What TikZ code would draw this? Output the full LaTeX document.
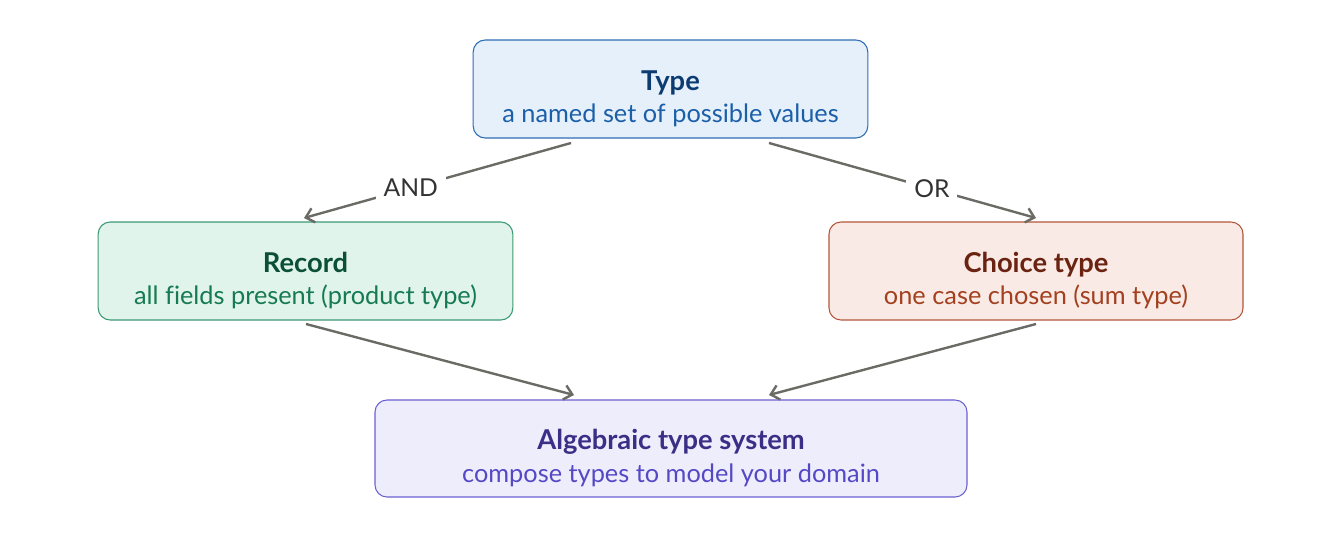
\documentclass[tikz,border=0pt]{standalone}
\usepackage{fontspec}
\setmainfont{Lato}
\usetikzlibrary{arrows.meta}
\definecolor{tyfill}{HTML}{E5F0FB}\definecolor{tydraw}{HTML}{2F6DB5}\definecolor{tytitle}{HTML}{0B3B70}\definecolor{tysub}{HTML}{1B5FA8}
\definecolor{refill}{HTML}{E0F4EC}\definecolor{redraw}{HTML}{3D9A74}\definecolor{retitle}{HTML}{0A4F36}\definecolor{resub}{HTML}{167A52}
\definecolor{chfill}{HTML}{FAEAE5}\definecolor{chdraw}{HTML}{B4553B}\definecolor{chtitle}{HTML}{6B2311}\definecolor{chsub}{HTML}{A2401F}
\definecolor{alfill}{HTML}{EEEDFC}\definecolor{aldraw}{HTML}{6A60D0}\definecolor{altitle}{HTML}{3A2F87}\definecolor{alsub}{HTML}{5548C4}
\definecolor{arrowc}{HTML}{6B6B66}\definecolor{labc}{HTML}{333333}
\tikzset{
  box/.style={draw, rounded corners=9pt, line width=0.8pt, minimum height=73.5pt, inner sep=0pt},
  ttl/.style={anchor=base, font=\fontsize{20.5}{24}\selectfont\bfseries, inner sep=0pt},
  sub/.style={anchor=base, font=\fontsize{19}{22}\selectfont, inner sep=0pt},
  conn/.style={draw=arrowc, line width=1.8pt, -{Straight Barb[length=6pt,width=11pt,line width=1.8pt]}},
  lab/.style={fill=white, text=labc, font=\fontsize{18.5}{22}\selectfont, inner xsep=6pt, inner ysep=2pt}
}
\begin{document}
\begin{tikzpicture}[x=0.75pt,y=-0.75pt]
\useasboundingbox (0,0) rectangle (1342,532);
\node[box, fill=tyfill, draw=tydraw, minimum width=296pt] (ty) at (670.5,89) {};
\node[ttl, text=tytitle] (tyt) at (670.5,90) {Type};
\node[sub, text=tysub] (tys) at (670.5,122) {a named set of possible values};
\node[box, fill=refill, draw=redraw, minimum width=311pt] (re) at (305.5,271) {};
\node[ttl, text=retitle] (ret) at (305.5,272) {Record};
\node[sub, text=resub] (res) at (305.5,304) {all f\kern0ptields present (product type)};
\node[box, fill=chfill, draw=chdraw, minimum width=310.5pt] (ch) at (1036,271) {};
\node[ttl, text=chtitle] (cht) at (1036,272) {Choice type};
\node[sub, text=chsub] (chs) at (1036,304) {one case chosen (sum type)};
\node[box, fill=alfill, draw=aldraw, minimum width=444pt, minimum height=72.75pt] (al) at (671,448.5) {};
\node[ttl, text=altitle] (alt) at (671,449) {Algebraic type system};
\node[sub, text=alsub] (als) at (671,482) {compose types to model your domain};
\coordinate (a1) at (571,143); \coordinate (a2) at (304,218);
\coordinate (b1) at (769,143); \coordinate (b2) at (1036,218);
\coordinate (c1) at (306,324); \coordinate (c2) at (574,395);
\coordinate (d1) at (1036,324); \coordinate (d2) at (769,395);
\draw[conn] (a1) -- (a2) node[lab, pos=0.6] (andl) {AND};
\draw[conn] (b1) -- (b2) node[lab, pos=0.61] (orl) {OR};
\draw[conn] (c1) -- (c2);
\draw[conn] (d1) -- (d2);
\end{tikzpicture}
\end{document}
